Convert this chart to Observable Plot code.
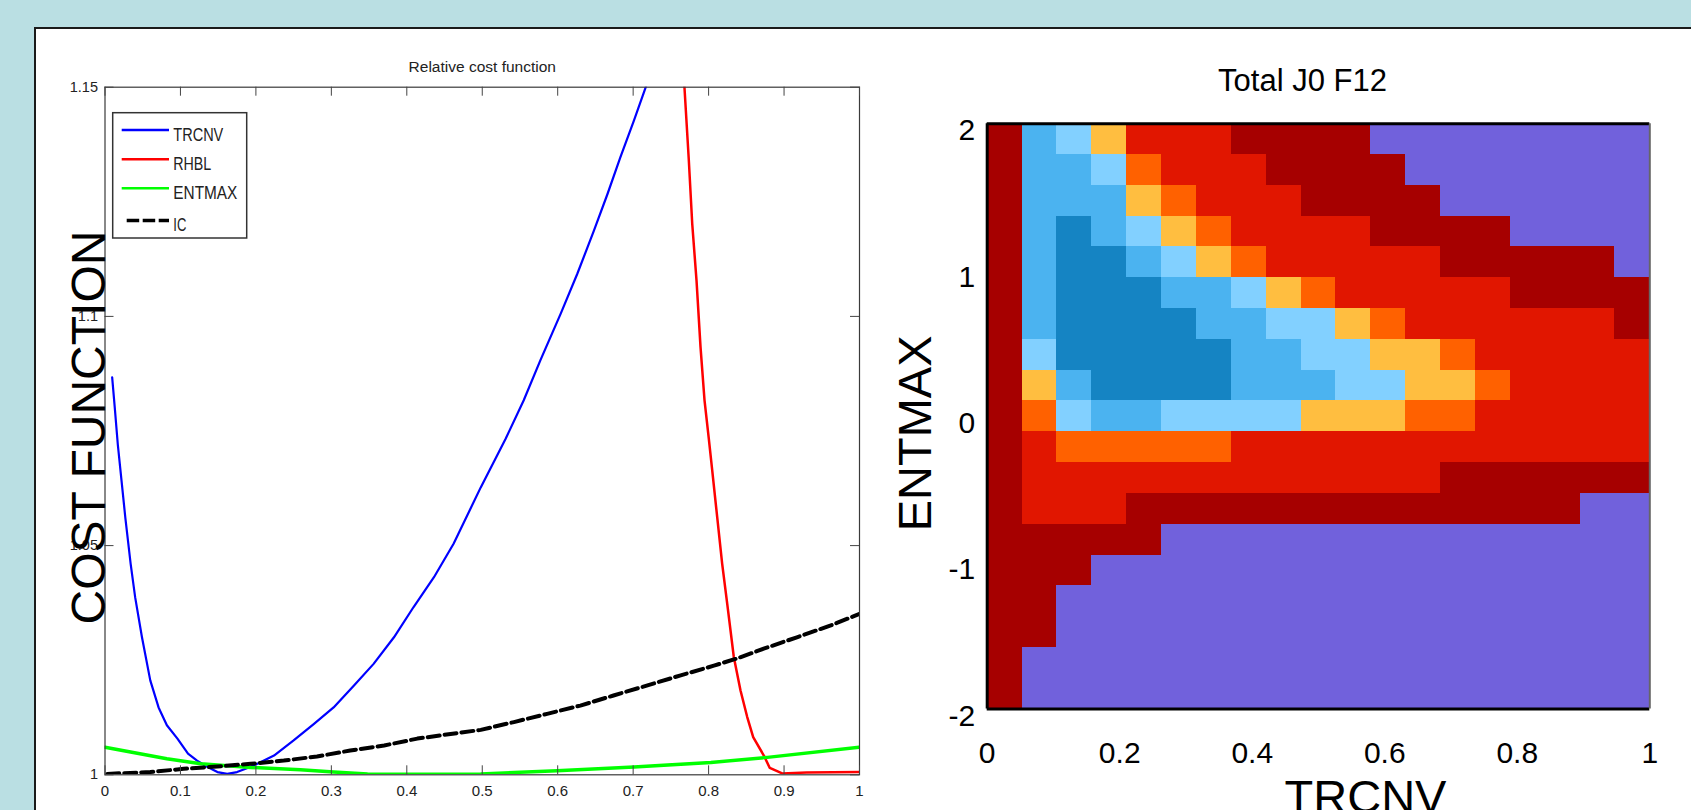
<!DOCTYPE html>
<html><head><meta charset="utf-8">
<script src="https://cdn.jsdelivr.net/npm/d3@7"></script>
<script src="https://cdn.jsdelivr.net/npm/@observablehq/plot@0.6"></script>
<style>
html,body{margin:0;padding:0;background:#badfe3;width:1691px;height:810px;overflow:hidden;font-family:"Liberation Sans",Arial,sans-serif;}
#panel{position:absolute;left:34px;top:27px;width:1700px;height:800px;background:#fff;border-top:2px solid #1a1a1a;border-left:2px solid #1a1a1a;}
#left{position:absolute;left:0;top:0;width:880px;height:810px;}
#right{position:absolute;left:880px;top:0;width:811px;height:810px;}
svg{overflow:visible;}
</style></head><body>
<div id="panel"></div>
<div id="left"></div>
<div id="right"></div>
<script>
// ---------- Left chart data: Relative cost function ----------
const seriesNames = ["TRCNV", "RHBL", "ENTMAX", "IC"];
const seriesColors = ["#0000ff", "#ff0000", "#00ff00", "#000000"];
const TRCNV = [[0.0095,1.0867],[0.013,1.080],[0.017,1.072],[0.022,1.064],[0.027,1.056],[0.034,1.046],[0.040,1.0387],[0.049,1.030],[0.060,1.0206],[0.071,1.0147],[0.082,1.0108],[0.096,1.0079],[0.110,1.0046],[0.122,1.0031],[0.136,1.0017],[0.149,1.0006],[0.162,1.0002],[0.175,1.0006],[0.189,1.0015],[0.202,1.0024],[0.224,1.0042],[0.250,1.0075],[0.277,1.0111],[0.303,1.0147],[0.330,1.0195],[0.356,1.0242],[0.383,1.0300],[0.409,1.0366],[0.436,1.0431],[0.462,1.0504],[0.498,1.0627],[0.531,1.0733],[0.555,1.0817],[0.577,1.0904],[0.604,1.1006],[0.626,1.1093],[0.648,1.1187],[0.666,1.1267],[0.683,1.1347],[0.701,1.1427],[0.716,1.1497],[0.725,1.1540]];
const RHBL = [[0.765,1.156],[0.768,1.150],[0.7738,1.134],[0.7783,1.1202],[0.784,1.1078],[0.7893,1.0933],[0.7946,1.0817],[0.8003,1.0733],[0.8048,1.0664],[0.8114,1.0562],[0.818,1.046],[0.8247,1.0373],[0.8334,1.0257],[0.8423,1.0184],[0.8512,1.0126],[0.8591,1.0082],[0.8732,1.0042],[0.8811,1.0015],[0.8975,1.0003],[0.93,1.0005],[1.0,1.0006]];
const ENTMAX = [[0,1.006],[0.082,1.0035],[0.127,1.0024],[0.193,1.0016],[0.259,1.0011],[0.303,1.0006],[0.348,1.0002],[0.45,1.0001],[0.498,1.0002],[0.599,1.0009],[0.701,1.0017],[0.803,1.0027],[0.878,1.0038],[1.0,1.006]];
const IC = [[0.003,1.0002],[0.06,1.0006],[0.104,1.0013],[0.149,1.0018],[0.193,1.0024],[0.237,1.0031],[0.281,1.004],[0.325,1.0053],[0.370,1.0064],[0.414,1.0079],[0.458,1.0089],[0.498,1.0098],[0.542,1.0115],[0.586,1.0133],[0.630,1.0151],[0.674,1.0173],[0.719,1.0195],[0.763,1.0217],[0.807,1.0238],[0.838,1.0254],[0.873,1.0275],[0.917,1.030],[0.962,1.0326],[1.0,1.0351]];
const seriesPoints = [TRCNV, RHBL, ENTMAX, IC];
const xTicksL = [0,0.1,0.2,0.3,0.4,0.5,0.6,0.7,0.8,0.9,1];
const yTicksL = [1,1.05,1.1,1.15];
const titleL = "Relative cost function";
const yLabelL = "COST FUNCTION";

// ---------- Right chart data: Total J0 F12 (pcolor grid, level index per cell) ----------
const levelNames = ["lowest","low","mid-low","mid","mid-high","high","higher","highest"];
const levelColors = ["#1584c3","#4bb3f0","#82d0ff","#ffbe40","#ff6100","#e11600","#a60000","#7161dc"];
const xEdges = [0,0.0526,0.1053,0.1579,0.2105,0.2632,0.3158,0.3684,0.4211,0.4737,0.5263,0.5789,0.6316,0.6842,0.7368,0.7895,0.8421,0.8947,0.9474,1];
const yEdges = [2,1.7895,1.5789,1.3684,1.1579,0.9474,0.7368,0.5263,0.3158,0.1053,-0.1053,-0.3158,-0.5263,-0.7368,-0.9474,-1.1579,-1.3684,-1.5789,-1.7895,-2];
const grid = [
 [6,1,2,3,5,5,5,6,6,6,6,7,7,7,7,7,7,7,7],
 [6,1,1,2,4,5,5,5,6,6,6,6,7,7,7,7,7,7,7],
 [6,1,1,1,3,4,5,5,5,6,6,6,6,7,7,7,7,7,7],
 [6,1,0,1,2,3,4,5,5,5,5,6,6,6,6,7,7,7,7],
 [6,1,0,0,1,2,3,4,5,5,5,5,5,6,6,6,6,6,7],
 [6,1,0,0,0,1,1,2,3,4,5,5,5,5,5,6,6,6,6],
 [6,1,0,0,0,0,1,1,2,2,3,4,5,5,5,5,5,5,6],
 [6,2,0,0,0,0,0,1,1,2,2,3,3,4,5,5,5,5,5],
 [6,3,1,0,0,0,0,1,1,1,2,2,3,3,4,5,5,5,5],
 [6,4,2,1,1,2,2,2,2,3,3,3,4,4,5,5,5,5,5],
 [6,5,4,4,4,4,4,5,5,5,5,5,5,5,5,5,5,5,5],
 [6,5,5,5,5,5,5,5,5,5,5,5,5,6,6,6,6,6,6],
 [6,5,5,5,6,6,6,6,6,6,6,6,6,6,6,6,6,7,7],
 [6,6,6,6,6,7,7,7,7,7,7,7,7,7,7,7,7,7,7],
 [6,6,6,7,7,7,7,7,7,7,7,7,7,7,7,7,7,7,7],
 [6,6,7,7,7,7,7,7,7,7,7,7,7,7,7,7,7,7,7],
 [6,6,7,7,7,7,7,7,7,7,7,7,7,7,7,7,7,7,7],
 [6,7,7,7,7,7,7,7,7,7,7,7,7,7,7,7,7,7,7],
 [6,7,7,7,7,7,7,7,7,7,7,7,7,7,7,7,7,7,7]
];
const xTicksR = [0,0.2,0.4,0.6,0.8,1];
const yTicksR = [-2,-1,0,1,2];
const titleR = "Total J0 F12";
const xLabelR = "TRCNV";
const yLabelR = "ENTMAX";

const FONT = '"Liberation Sans", Arial, sans-serif';

// ---------- Left plot ----------
const W1 = 880, H1 = 810;
const mL = 104.5, mR = W1 - 859, mT = 86.7, mB = H1 - 774.3;
const fw = W1 - mL - mR, fh = H1 - mT - mB;
const tk = 9;
const widths = [2.2, 2.5, 3.5, 4];

const left = Plot.plot({
  width: W1, height: H1,
  marginLeft: mL, marginRight: mR, marginTop: mT, marginBottom: mB,
  style: {background: "transparent", fontFamily: FONT, color: "#222", overflow: "visible"},
  x: {domain: [0, 1], label: null},
  y: {domain: [1, 1.15], label: null},
  marks: [
    ...seriesPoints.map((pts, i) => Plot.line(pts, {
      x: d => d[0], y: d => d[1], stroke: seriesColors[i], strokeWidth: widths[i],
      strokeDasharray: seriesNames[i] === "IC" ? "12,5" : null, clip: true
    })),
    Plot.frame({stroke: "#3a3a3a", strokeWidth: 1.2}),
    Plot.tickX(xTicksL, {x: d => d, insetBottom: fh - tk, stroke: "#444"}),
    Plot.tickX(xTicksL, {x: d => d, insetTop: fh - tk, stroke: "#444"}),
    Plot.tickY(yTicksL, {y: d => d, insetRight: fw - tk, stroke: "#444"}),
    Plot.tickY(yTicksL, {y: d => d, insetLeft: fw - tk, stroke: "#444"}),
    Plot.axisX({ticks: xTicksL, tickFormat: d => String(d), tickSize: 0, tickPadding: 11, fontSize: 15, label: null}),
    Plot.axisY({ticks: yTicksL, tickFormat: d => String(d), tickSize: 0, tickPadding: 7, fontSize: 14.5, label: null}),
    Plot.text([titleL], {frameAnchor: "top", lineAnchor: "bottom", dy: -15.5, fontSize: 15.5, fill: "#222"}),
    Plot.text([yLabelL], {frameAnchor: "left", rotate: -90, lineAnchor: "bottom", textAnchor: "middle", dx: -0.5, dy: -3.5, fontSize: 48, fill: "#000"})
  ]
});
document.getElementById("left").appendChild(left);

// legend (decoration drawn from series names/colours)
const lg = d3.select(left).append("g").attr("text-anchor", "start");
lg.append("rect").attr("x", 112.7).attr("y", 112.7).attr("width", 134).attr("height", 125.3)
  .attr("fill", "#fff").attr("stroke", "#333").attr("stroke-width", 1.5);
const rowY = [130, 159.3, 188.3, 220.5];
const textLen = [50, 38, 64, 13];
seriesNames.forEach((n, i) => {
  lg.append("line").attr("x1", n === "IC" ? 126.7 : 121.7).attr("x2", 169).attr("y1", rowY[i]).attr("y2", rowY[i])
    .attr("stroke", seriesColors[i]).attr("stroke-width", n === "IC" ? 3.5 : 2.5)
    .attr("stroke-dasharray", n === "IC" ? "12.5,3.5" : null);
  lg.append("text").attr("x", 173.3).attr("y", rowY[i] + 10.7).attr("font-size", 19)
    .attr("text-anchor", "start")
    .attr("font-family", FONT).attr("fill", "#222")
    .attr("textLength", textLen[i]).attr("lengthAdjust", "spacingAndGlyphs").text(n);
});

// ---------- Right plot ----------
const W2 = 811, H2 = 810, X0 = 880;
const cells = [];
grid.forEach((row, r) => row.forEach((lev, c) => cells.push({
  x1: xEdges[c], x2: xEdges[c + 1], y1: yEdges[r + 1], y2: yEdges[r], level: levelNames[lev]
})));

const right = Plot.plot({
  width: W2, height: H2,
  marginLeft: 986.7 - X0, marginRight: X0 + W2 - 1649.3, marginTop: 123.3, marginBottom: H2 - 708.5,
  style: {background: "transparent", fontFamily: FONT, color: "#000", overflow: "visible"},
  x: {domain: [0, 1], label: null},
  y: {domain: [-2, 2], label: null},
  color: {type: "ordinal", domain: levelNames, range: levelColors},
  marks: [
    Plot.rect(cells, {x1: "x1", x2: "x2", y1: "y1", y2: "y2", fill: "level", shapeRendering: "crispEdges"}),
    Plot.ruleY([2, -2], {stroke: "#000", strokeWidth: 3}),
    Plot.ruleX([0], {stroke: "#000", strokeWidth: 3}),
    Plot.ruleX([1], {stroke: "#666", strokeWidth: 2}),
    Plot.axisX({ticks: xTicksR, tickFormat: d => String(d), tickSize: 0, tickPadding: 33, fontSize: 30, label: null}),
    Plot.axisY({ticks: yTicksR, tickFormat: d => String(d), tickSize: 0, tickPadding: 12, dy: 7, fontSize: 30, label: null}),
    Plot.text([titleR], {frameAnchor: "top", lineAnchor: "bottom", dx: -16, dy: -32.7, fontSize: 31, fill: "#000"}),
    Plot.text([yLabelR], {frameAnchor: "left", rotate: -90, lineAnchor: "bottom", textAnchor: "middle", dx: -56.7, dy: 17, fontSize: 47, fill: "#000"}),
    Plot.text([xLabelR], {frameAnchor: "bottom", lineAnchor: "top", dx: 47, dy: 70.5, fontSize: 47, fill: "#000"})
  ]
});
document.getElementById("right").appendChild(right);
</script>
</body></html>
